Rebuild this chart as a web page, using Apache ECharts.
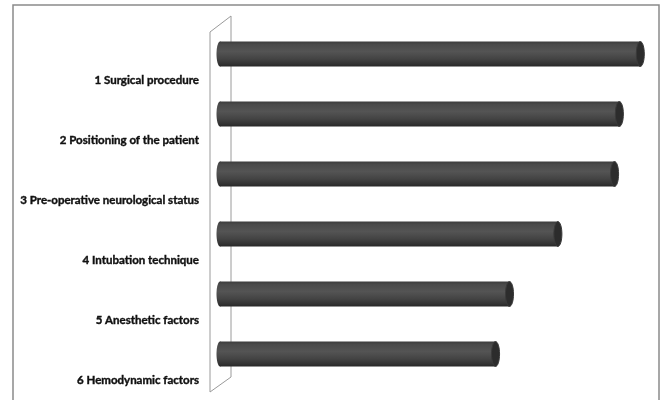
<!DOCTYPE html>
<html><head><meta charset="utf-8">
<script src="https://cdn.jsdelivr.net/npm/echarts@6/dist/echarts.min.js"></script>
<style>html,body{margin:0;padding:0;background:#fff}#c{width:661px;height:400px}</style>
</head><body><div id="c"></div>
<script>
const categories = ['1 Surgical procedure','2 Positioning of the patient','3 Pre-operative neurological status','4 Intubation technique','5 Anesthetic factors','6 Hemodynamic factors'];
const values = [96.4, 91.6, 90.5, 77.5, 66.4, 63.2];

const chart = echarts.init(document.getElementById('c'));
const bodyGrad = {type:'linear',x:0,y:0,x2:0,y2:1,colorStops:[
  {offset:0,color:'#3c3c3c'},{offset:0.12,color:'#4a4a4a'},{offset:0.4,color:'#545454'},
  {offset:0.7,color:'#434343'},{offset:0.9,color:'#333333'},{offset:1,color:'#272727'}]};
chart.setOption({
  animation:false,
  backgroundColor:'#fff',
  grid:{left:220,right:5,top:24,bottom:16,containLabel:false},
  xAxis:{type:'value',min:0,max:100,show:false},
  yAxis:{type:'category',inverse:true,data:categories,
    axisLine:{show:false},axisTick:{show:false},
    axisLabel:{margin:21,verticalAlign:'middle',interval:0,hideOverlap:false,showMinLabel:true,showMaxLabel:true,
      formatter:function(v){return '{s| }\n{a|'+v+'}';},
      rich:{
        s:{height:52,lineHeight:52,fontSize:1},
        a:{fontFamily:'Lato',fontWeight:'bold',fontSize:11.5,lineHeight:14,color:'#111',align:'right',
           textBorderColor:'#111',textBorderWidth:0.4}
      }}},
  graphic:[
    {type:'rect',shape:{x:13,y:5,width:646,height:420},style:{fill:'none',stroke:'#8a8a8a',lineWidth:1.5},z:0},
    {type:'polygon',shape:{points:[[210,32],[231,16],[231,377],[210,392]]},style:{fill:'#fff',stroke:'#9a9a9a',lineWidth:1},z:1}
  ],
  series:[{
    type:'custom',z:10,
    data:values.map((v,i)=>[v,i]),
    encode:{x:0,y:1},
    renderItem:function(params,api){
      const p0=api.coord([0,api.value(1)]);
      const p1=api.coord([api.value(0),api.value(1)]);
      const h=api.size([0,1])[1]*0.415;
      const cy=p0[1], top=cy-h/2;
      return {type:'group',children:[
        {type:'ellipse',shape:{cx:p0[0],cy:cy,rx:3.5,ry:h/2},style:{fill:bodyGrad}},
        {type:'rect',shape:{x:p0[0],y:top,width:p1[0]-p0[0],height:h},style:{fill:bodyGrad}},
        {type:'ellipse',shape:{cx:p1[0],cy:cy,rx:4,ry:h/2},style:{fill:'#2c2c2c',stroke:'#3a3a3a',lineWidth:1}}
      ]};
    }
  }]
});
</script></body></html>
